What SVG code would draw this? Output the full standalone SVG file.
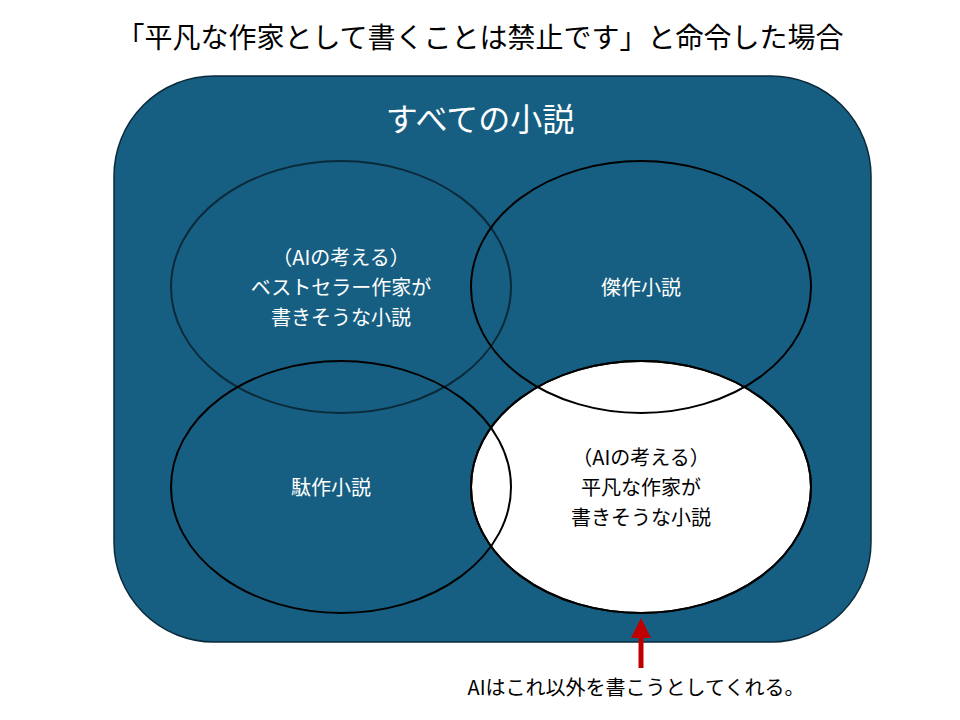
<svg xmlns="http://www.w3.org/2000/svg" width="960" height="720" viewBox="0 0 960 720">
<style>
text{font-family:"Noto Sans CJK JP","Noto Sans",sans-serif;text-anchor:middle}
.w{fill:#fff;font-size:20px}
.k{fill:#000;font-size:20px}
.e{fill:none;stroke:#000;stroke-width:2}
</style>
<defs><marker id="ah" markerWidth="4" markerHeight="4" refX="2" refY="2" orient="auto" markerUnits="strokeWidth"><path d="M0,0L4,2L0,4Z" fill="#c00000"/></marker></defs>
<rect width="960" height="720" fill="#fff"/>
<text x="480" y="48" class="k" style="font-size:28px">「平凡な作家として書くことは禁止です」と命令した場合</text>
<g id="all"><rect x="114" y="76" width="757" height="566" rx="100" fill="#175f82" stroke="#0a2a3a" stroke-width="1.5"/>
<text x="480" y="131" class="w" style="font-size:32px">すべての小説</text></g>
<g id="bottomright"><ellipse cx="641" cy="487" rx="170" ry="126" fill="#fff" stroke="#000" stroke-width="2"/></g>
<g id="bestseller"><ellipse cx="341" cy="287" rx="170" ry="126" fill="none" stroke="#0a2a3a" stroke-width="2"/>
<text class="w" x="341" y="265">（AIの考える）</text><text class="w" x="341" y="295">ベストセラー作家が</text><text class="w" x="341" y="325">書きそうな小説</text></g>
<g id="masterpiece"><ellipse cx="641" cy="287" rx="170" ry="126" class="e"/><text class="w" x="641" y="295">傑作小説</text></g>
<g id="dud"><ellipse cx="341" cy="487" rx="170" ry="126" class="e"/><text class="w" x="331" y="495">駄作小説</text></g>
<g id="ordinary"><ellipse cx="641" cy="487" rx="170" ry="126" class="e"/>
<text class="k" x="641" y="465">（AIの考える）</text><text class="k" x="641" y="495">平凡な作家が</text><text class="k" x="641" y="525">書きそうな小説</text></g>
<g id="connectors"><line x1="641" y1="668" x2="641" y2="628" stroke="#c00000" stroke-width="5" marker-end="url(#ah)"/></g>
<text class="k" x="636" y="695">AIはこれ以外を書こうとしてくれる。</text>
</svg>
